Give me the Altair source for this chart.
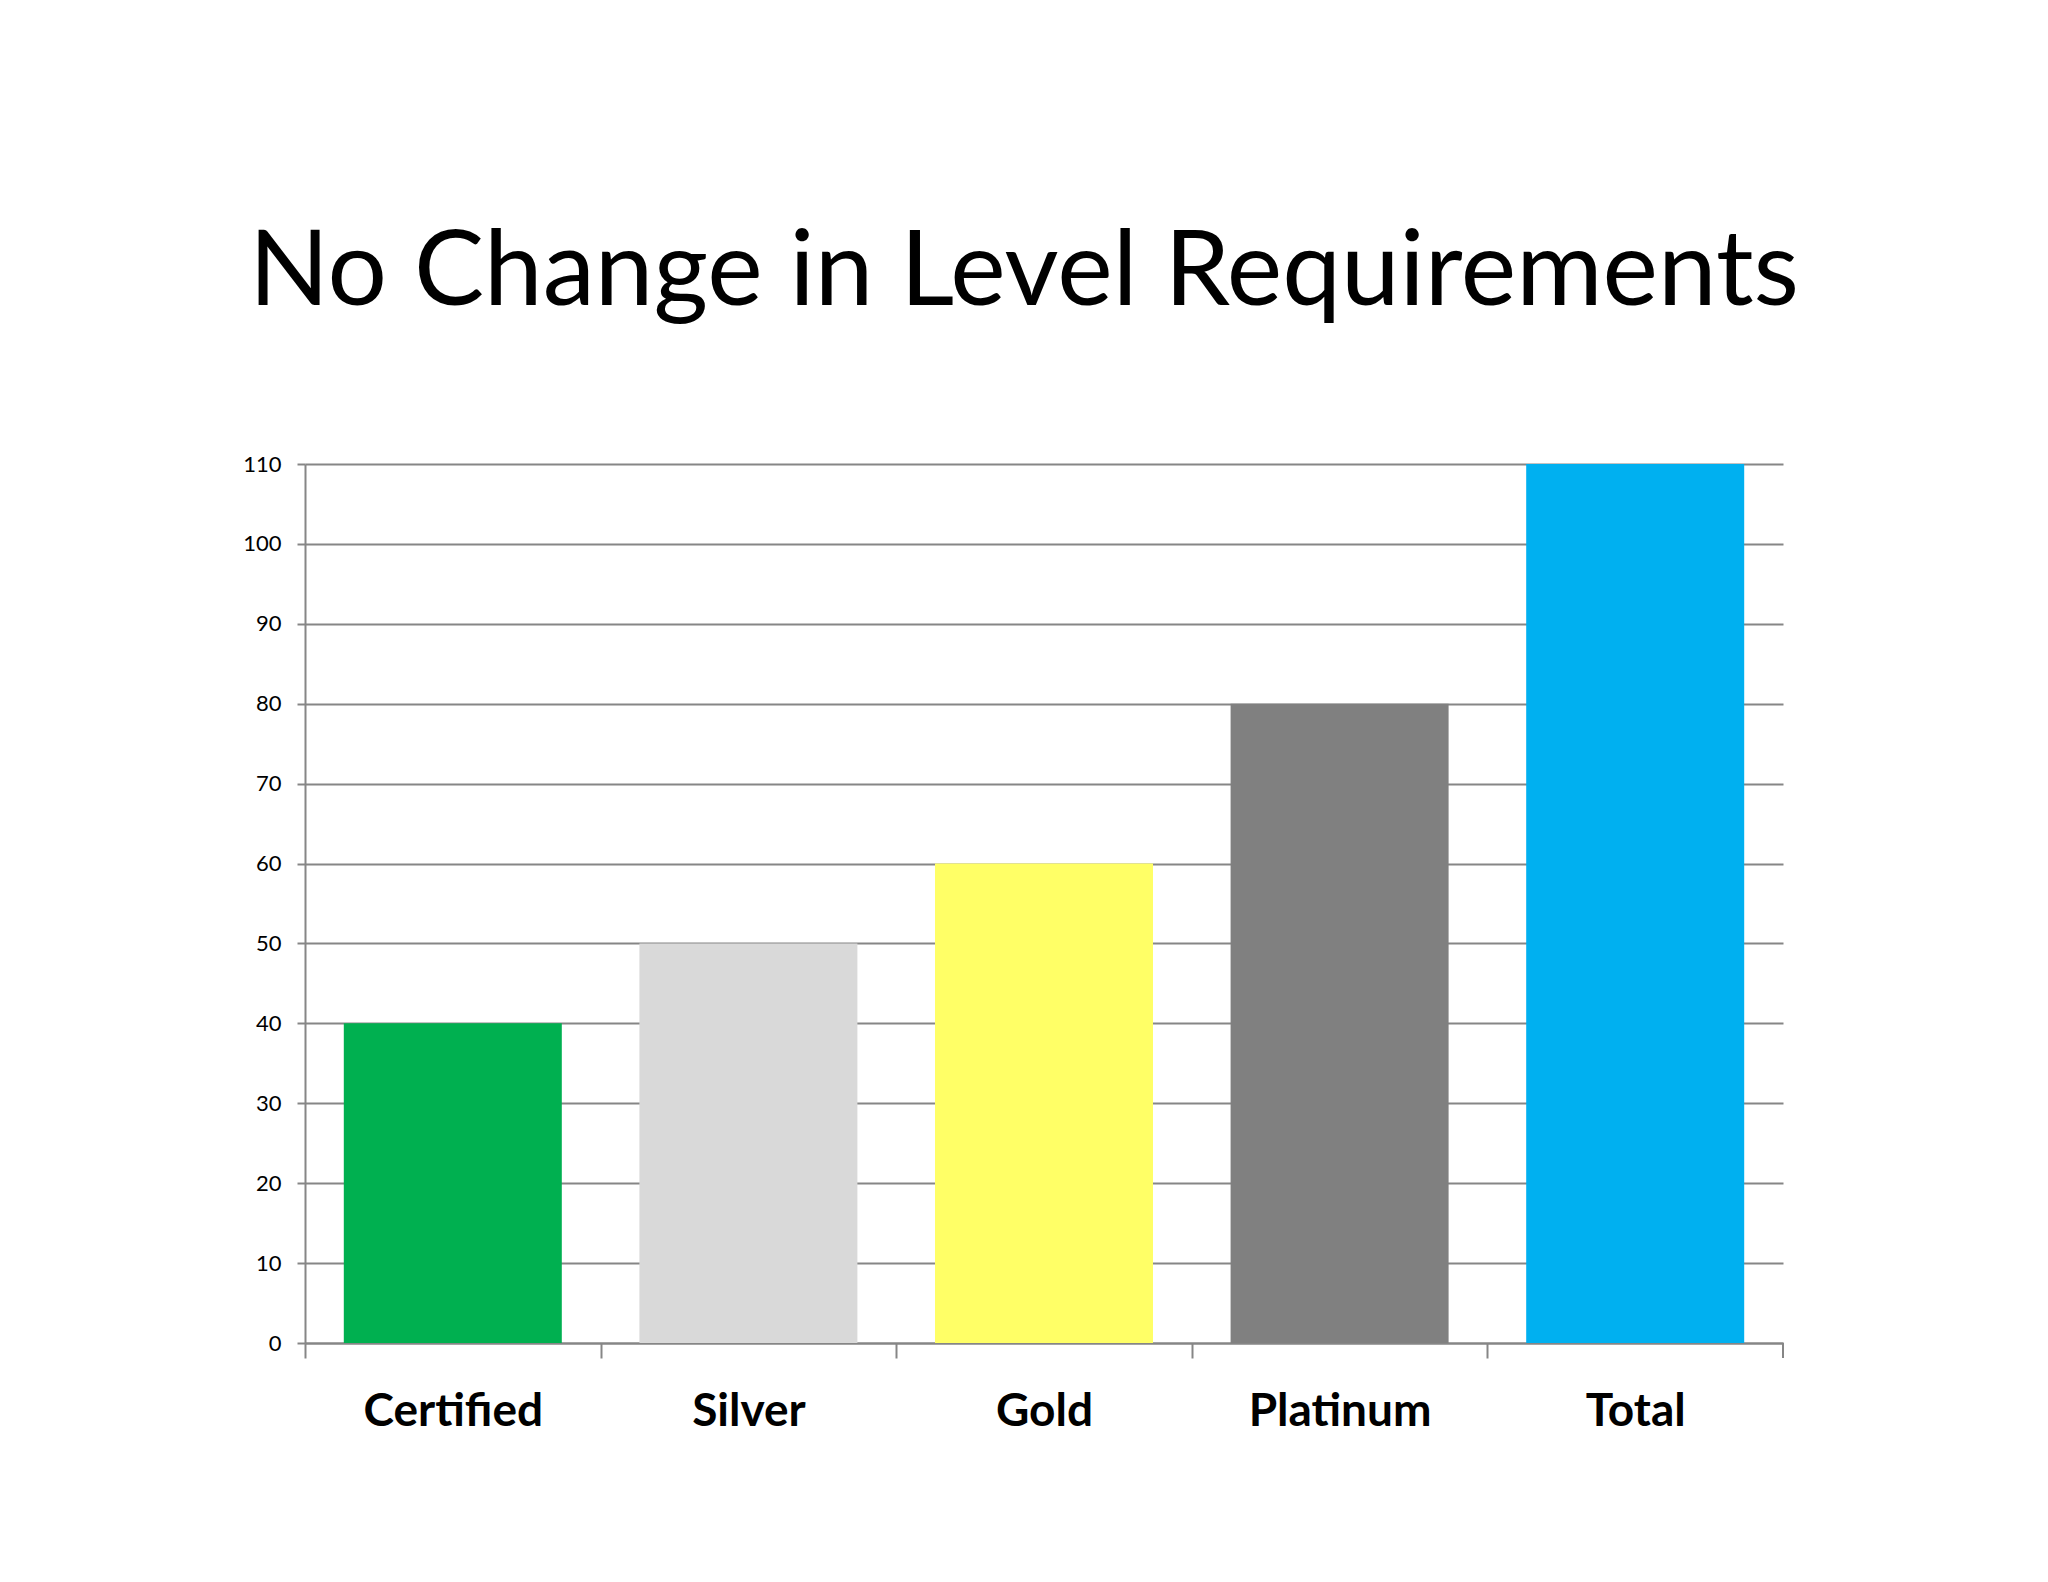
import altair as alt
import pandas as pd

categories = ["Certified", "Silver", "Gold", "Platinum", "Total"]
values = [40, 50, 60, 80, 110]
colors = ["#00B050", "#D9D9D9", "#FFFF66", "#808080", "#00B0F0"]
y_ticks = [0, 10, 20, 30, 40, 50, 60, 70, 80, 90, 100, 110]

df = pd.DataFrame({"category": categories, "value": values})

W, H = 1478, 879
band = W / len(categories)
GRID = "#868686"
FONT = "Lato"

x_enc = alt.X(
    "category:N",
    sort=categories,
    scale=alt.Scale(paddingInner=0.2625, paddingOuter=0.13125),
    axis=alt.Axis(
        title=None,
        labelAngle=0,
        labelFont=FONT,
        labelFontWeight="bold",
        labelFontSize=46,
        labelColor="#000000",
        labelPadding=31,
        labelLimit=400,
        tickSize=15,
        tickColor=GRID,
        tickWidth=2,
        tickOffset=-band / 2,
        labelOffset=band / 2,
        domainColor=GRID,
        domainWidth=2,
        grid=False,
    ),
)

y_enc = alt.Y(
    "value:Q",
    scale=alt.Scale(domain=[0, 110], nice=False),
    axis=alt.Axis(
        title=None,
        values=y_ticks,
        labelFont=FONT,
        labelFontSize=22,
        labelColor="#000000",
        labelPadding=16,
        tickSize=8,
        tickColor=GRID,
        tickWidth=2,
        domainColor=GRID,
        domainWidth=2,
        grid=True,
        gridColor=GRID,
        gridWidth=2,
    ),
)

bars = alt.Chart(df).mark_bar().encode(
    x=x_enc,
    y=y_enc,
    color=alt.Color("category:N", sort=categories,
                    scale=alt.Scale(domain=categories, range=colors), legend=None),
)

end_tick = alt.Chart(alt.Data(values=[{"t": 1}])).mark_rule(color=GRID, strokeWidth=2).encode(
    x=alt.value(W), y=alt.value(H), y2=alt.value(H + 15)
)

chart = alt.layer(bars, end_tick).properties(
    width=W,
    height=H,
    title=alt.TitleParams(
        "No Change in Level Requirements",
        font=FONT,
        fontSize=105,
        fontWeight="normal",
        color="#000000",
        anchor="middle",
        dx=-20,
        offset=126,
    ),
    padding={"left": 297, "top": 456, "right": 250, "bottom": 200},
    autosize=alt.AutoSizeParams(type="none"),
).configure(
    background="#FFFFFF",
    view=alt.ViewConfig(stroke=None, strokeWidth=0),
)

chart.save("out.html", embed_options={"renderer": "svg", "actions": False})
